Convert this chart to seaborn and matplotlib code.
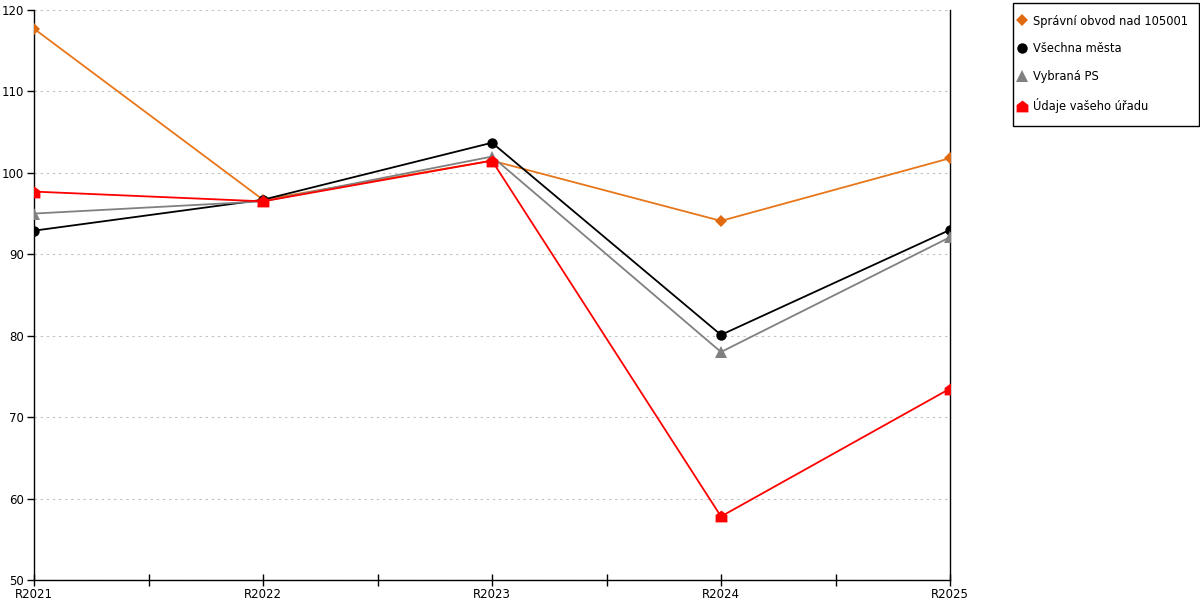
import numpy as np
import pandas as pd
import matplotlib
matplotlib.use("Agg")
import matplotlib.pyplot as plt
from matplotlib.lines import Line2D
from matplotlib.path import Path
from matplotlib.patches import Rectangle
import seaborn as sns

categories = ["R2021", "R2022", "R2023", "R2024", "R2025"]
series_names = ["Správní obvod nad 105001", "Všechna města", "Vybraná PS", "Údaje vašeho úřadu"]
obvod = [117.7, 96.7, 101.5, 94.1, 101.8]
mesta = [92.9, 96.7, 103.7, 80.1, 93.0]
vybrana = [95.0, 96.5, 102.0, 78.0, 92.1]
urad = [97.7, 96.5, 101.5, 57.8, 73.5]
y_ticks = [50, 60, 70, 80, 90, 100, 110, 120]

sns.set_theme(style="white")
plt.rcParams["font.family"] = ["DejaVu Sans"]
plt.rcParams["text.color"] = "black"
plt.rcParams["xtick.color"] = "black"
plt.rcParams["ytick.color"] = "black"

house = Path([(-1, -1), (1, -1), (1, 0.25), (0, 1), (-1, 0.25), (-1, -1)],
             [Path.MOVETO, Path.LINETO, Path.LINETO, Path.LINETO, Path.LINETO, Path.CLOSEPOLY])

colors = ["#E8761A", "#000000", "#808080", "#FF0000"]
mcolors = ["#E06A10", "#000000", "#808080", "#FF0000"]
markers = ["D", "o", "^", house]
msizes = [6.5, 7.5, 8, 8.5]

rows = []
for name, vals in zip(series_names, [obvod, mesta, vybrana, urad]):
    for i, v in enumerate(vals):
        rows.append({"x": i, "value": v, "series": name})
df = pd.DataFrame(rows)

W, H = 1200, 600
fig = plt.figure(figsize=(12, 6), dpi=100)
ax = fig.add_axes([34/W, 20/H, (950-34)/W, 570/H])

for name, c, mc, m, ms in zip(series_names, colors, mcolors, markers, msizes):
    sub = df[df["series"] == name]
    sns.lineplot(data=sub, x="x", y="value", ax=ax, color=c, linewidth=1.3,
                 marker=m, markersize=ms, markerfacecolor=mc, markeredgecolor=mc,
                 markeredgewidth=0, legend=False, zorder=3)

ax.set_xlim(0, len(categories) - 1)
ax.set_ylim(50, 120)
ax.set_xticks(range(len(categories)))
ax.set_xticklabels(categories)
ax.set_xticks(np.arange(0.5, len(categories) - 1, 1), minor=True)
ax.set_yticks(y_ticks)
ax.set_xlabel("")
ax.set_ylabel("")
ax.yaxis.grid(True, color="#C4C4C4", linestyle=(0, (2.2, 3.3)), linewidth=0.8)
ax.xaxis.grid(False)
for s in ["left", "bottom", "right"]:
    ax.spines[s].set_visible(True)
    ax.spines[s].set_color("black")
    ax.spines[s].set_linewidth(1.0)
ax.spines["top"].set_visible(False)
ax.tick_params(axis="x", which="both", direction="inout", length=8, width=1, color="black",
               labelsize=8.5, pad=2, bottom=True, labelcolor="black")
ax.tick_params(axis="y", which="major", direction="out", length=5, width=1, color="black",
               labelsize=8.5, pad=2, left=True, labelcolor="black")

# legend frame
fig.patches.append(Rectangle((1013/W, 1 - 126/H), (1199 - 1013)/W, (126 - 3)/H,
                             transform=fig.transFigure, facecolor="white",
                             edgecolor="black", linewidth=1.0, zorder=0))

handles = [Line2D([], [], linestyle="none", marker=m, markersize=ms, markerfacecolor=mc,
                  markeredgecolor=mc, markeredgewidth=0)
           for m, ms, mc in zip(markers, msizes, mcolors)]
leg = fig.legend(handles, series_names, loc="upper left", bbox_to_anchor=(1018/W, 1 - 14.5/H),
                 frameon=False, fontsize=8.3,
                 labelspacing=1.3, handlelength=0.7, handletextpad=0.6, borderpad=0,
                 borderaxespad=0, labelcolor="black")

fig.savefig("out.png", dpi=100)
